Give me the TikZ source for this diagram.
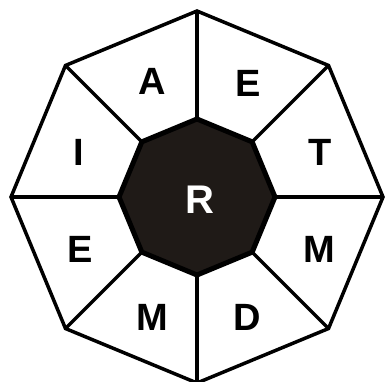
\documentclass[tikz,border=0pt]{standalone}
\usepackage{fontspec}
\setmainfont{Liberation Sans}
\definecolor{hubfill}{RGB}{31,26,23}
\tikzset{
  rim/.style={line width=3.5pt, line join=miter},
  hub/.style={fill=hubfill, draw=black, line width=5pt, line join=miter},
  letter/.style={font=\fontsize{38}{38}\selectfont\bfseries, inner sep=0pt},
}
\begin{document}
\begin{tikzpicture}[x=1pt,y=1pt]
        \useasboundingbox (-197,-185) rectangle (188,197);

        % Corners of the two octagons
        \foreach \k in {0,...,7} {
            \coordinate (o\k) at ({90-45*\k}:186);
            \coordinate (i\k) at ({90-45*\k}:78);
        }

        % Outer rim
        \draw[rim] (o0) -- (o1) -- (o2) -- (o3) -- (o4) -- (o5) -- (o6) -- (o7) -- cycle;

        % Spokes from hub to rim
        \foreach \k in {0,...,7}
            \draw[rim] (i\k) -- (o\k);

        % Dark hub
        \draw[hub] (i0) -- (i1) -- (i2) -- (i3) -- (i4) -- (i5) -- (i6) -- (i7) -- cycle;
        \node[letter, text=white, font=\fontsize{40}{40}\selectfont\bfseries] (hubR) at (3,-3) {R};

        % Letters in the sectors
        \foreach \x/\y/\txt [count=\n] in {51/114/E, 123/45/T, 122/-52/M, 50/-120/D,
                                          -45/-120/M, -117/-52/E, -118/45/I, -45/116/A}
            \node[letter] (lab\n) at (\x,\y) {\txt};

    \end{tikzpicture}
\end{document}
